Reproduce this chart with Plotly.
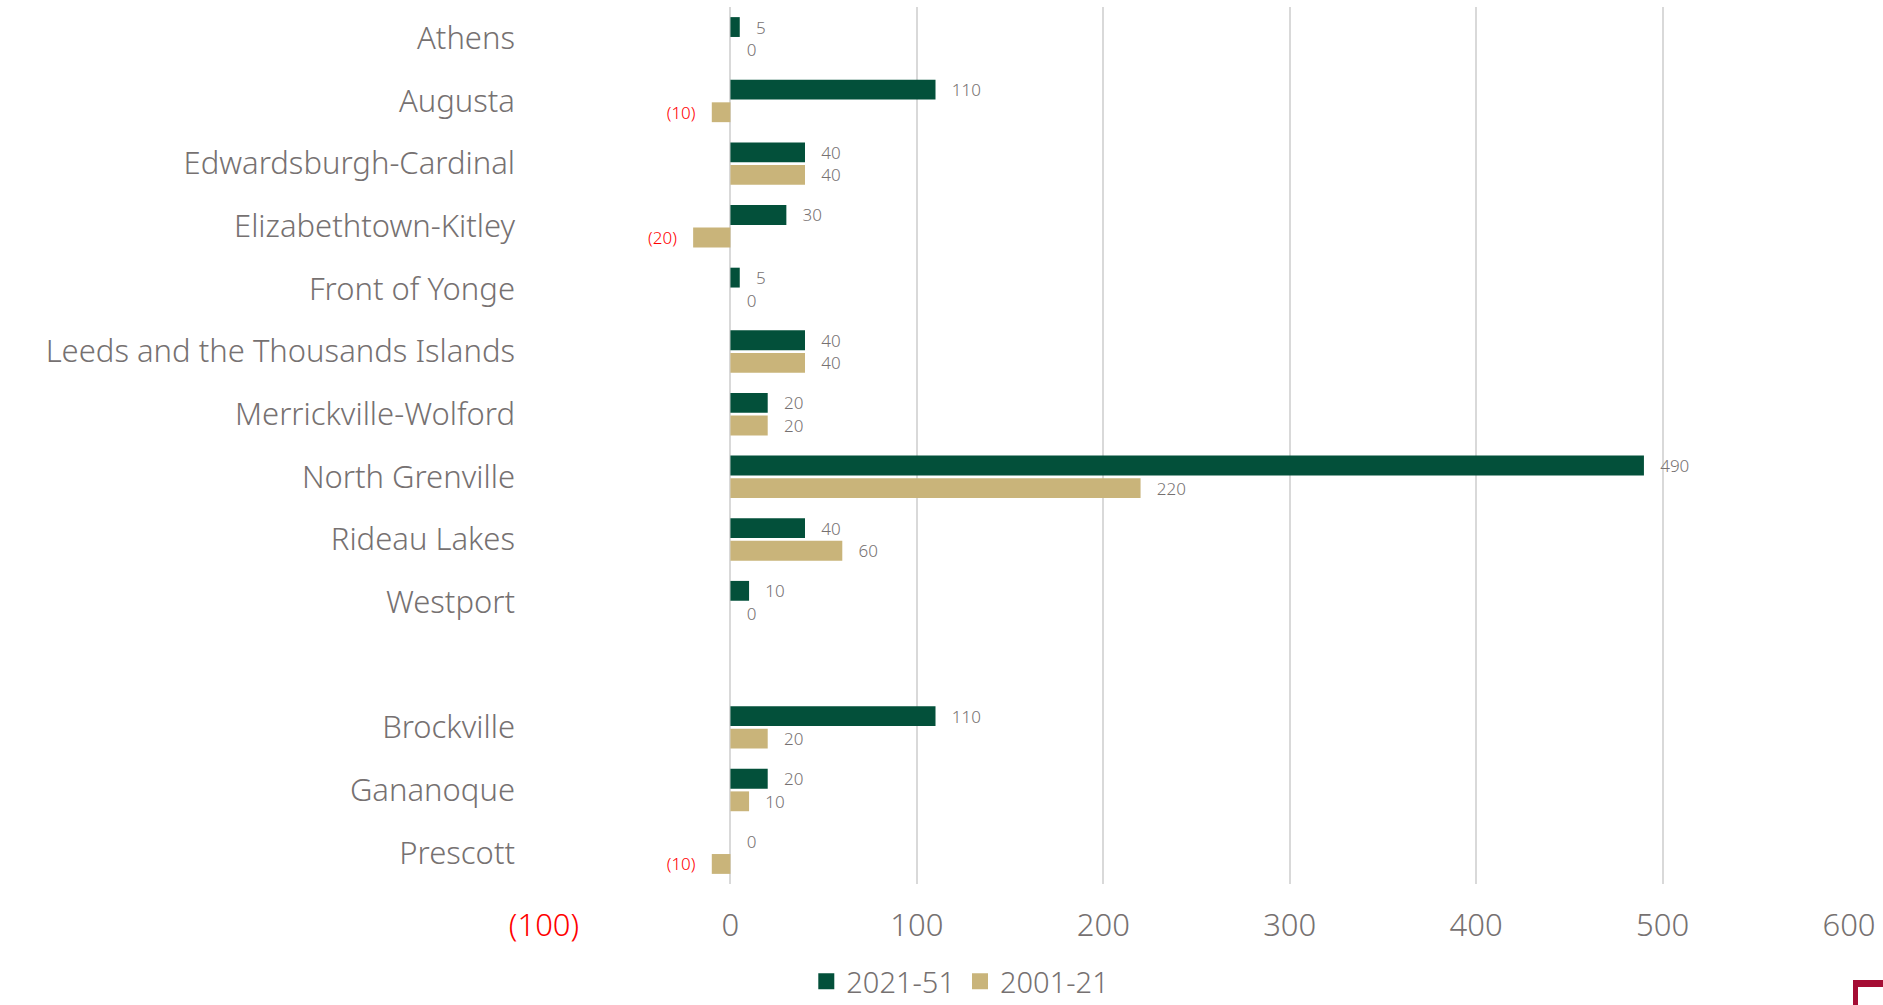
import plotly.graph_objects as go

categories = ["Athens", "Augusta", "Edwardsburgh-Cardinal", "Elizabethtown-Kitley",
              "Front of Yonge", "Leeds and the Thousands Islands", "Merrickville-Wolford",
              "North Grenville", "Rideau Lakes", "Westport", " ",
              "Brockville", "Gananoque", "Prescott"]
series_2021_51 = [5, 110, 40, 30, 5, 40, 20, 490, 40, 10, None, 110, 20, 0]
series_2001_21 = [0, -10, 40, -20, 0, 40, 20, 220, 60, 0, None, 20, 10, -10]
tick_vals = [-100, 0, 100, 200, 300, 400, 500, 600]
tick_labels = ["(100)", "0", "100", "200", "300", "400", "500", "600"]

GREEN = "#03503A"
TAN = "#C9B47A"
GRAY = "#767171"
RED = "#FF0000"
FONT = "Noto Sans"
PAD = "\u00a0\u00a0\u00a0"


def fmt(v):
    if v is None:
        return ""
    return f"({abs(v)}){PAD}" if v < 0 else f"{PAD}{v}"


def colors(vals):
    return [RED if (v is not None and v < 0) else GRAY for v in vals]


fig = go.Figure()
for name, vals, col in [("2021-51", series_2021_51, GREEN), ("2001-21", series_2001_21, TAN)]:
    fig.add_trace(go.Bar(
        name=name, y=categories, x=vals, orientation="h",
        marker=dict(color=col, line=dict(width=0)),
        text=[fmt(v) for v in vals], textposition="outside",
        textfont=dict(family=FONT, size=17, color=colors(vals), weight=300),
        constraintext="none",
        cliponaxis=False, showlegend=False,
    ))
    # legend entry with a larger square swatch
    fig.add_trace(go.Scatter(
        name=name, x=[None], y=[None], mode="markers",
        marker=dict(symbol="square", size=22, color=col),
        showlegend=True,
    ))

tick_text = [f'<span style="color:{RED}">{t}</span>' if v < 0 else t
             for v, t in zip(tick_vals, tick_labels)]

fig.update_layout(
    width=1883, height=1005,
    margin=dict(l=544, r=34, t=7, b=121, autoexpand=False),
    paper_bgcolor="white", plot_bgcolor="white",
    barmode="group", bargap=0.28, bargroupgap=0.12,
    font=dict(family=FONT, color=GRAY),
    legend=dict(orientation="h", x=0.319, xanchor="center", y=-0.111, yanchor="middle",
                font=dict(family=FONT, size=29, color=GRAY, weight=300),
                traceorder="normal", itemwidth=30, itemsizing="trace"),
    xaxis=dict(range=[-100, 600], tickvals=tick_vals, ticktext=tick_text,
               showgrid=True, gridcolor="#D9D9D9", gridwidth=1.5,
               zeroline=True, zerolinecolor="#D9D9D9", zerolinewidth=1.5,
               showline=False, ticks="", ticklabelstandoff=20, automargin=False,
               tickfont=dict(family=FONT, size=31, color=GRAY, weight=300)),
    yaxis=dict(categoryorder="array", categoryarray=categories, autorange="reversed",
               showgrid=False, zeroline=False, showline=False, ticks="",
               ticklabelstandoff=28, automargin=False,
               tickfont=dict(family=FONT, size=31, color=GRAY, weight=300)),
)

# corner decoration (bottom right)
fig.add_shape(type="rect", xref="paper", yref="paper",
              x0=(1853 - 544) / 1305, x1=(1883 - 544) / 1305,
              y0=-(980 - 884) / 877, y1=-(987 - 884) / 877,
              fillcolor="#A50D34", line=dict(width=0))
fig.add_shape(type="rect", xref="paper", yref="paper",
              x0=(1853 - 544) / 1305, x1=(1858 - 544) / 1305,
              y0=-(980 - 884) / 877, y1=-(1005 - 884) / 877,
              fillcolor="#A50D34", line=dict(width=0))

fig.write_html("out.html")
